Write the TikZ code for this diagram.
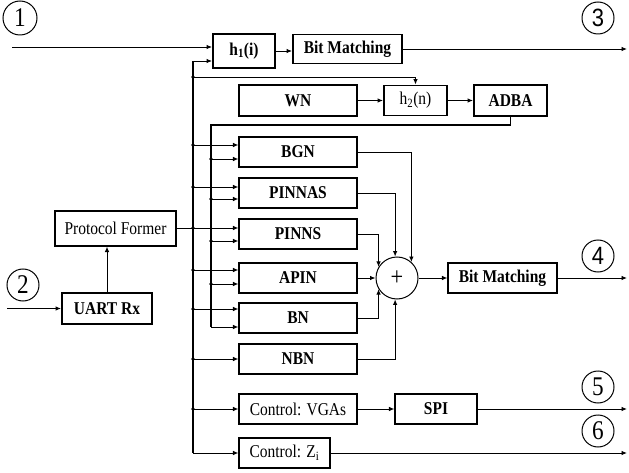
\documentclass[tikz,border=0pt]{standalone}
\usepackage{fontspec}
\setmainfont{Liberation Serif}[FakeStretch=0.86]
\newfontfamily\digsans{Liberation Sans}[FakeStretch=0.88]
\usetikzlibrary{arrows.meta,calc}
\begin{document}
\begin{tikzpicture}[x=1pt,y=-1pt,
  font=\fontsize{18}{20}\selectfont,
  box/.style={draw,line width=1.1pt,inner sep=0pt,align=center},
  tbox/.style={box,line width=1.9pt},
  num/.style={draw,circle,line width=1pt,minimum size=32pt,inner sep=0pt,font=\fontsize{27}{27}\selectfont},
  numsans/.style={num,font=\digsans\fontsize{25}{25}\selectfont},
  conn/.style={line width=0.9pt},
  bus/.style={line width=1.3pt},
  arr/.style={conn,-{Latex[length=5.5pt,width=4.5pt]}},
  dot/.style={circle,fill,inner sep=0pt,minimum size=3.6pt}
]
\useasboundingbox (0,0) rectangle (629,473);

% number circles
\node[num,minimum size=34pt] (c1) at (20,18) {1};
\node[num] (c2) at (23,285) {2};
\node[numsans] (c3) at (598,18) {3};
\node[numsans] (c4) at (598,256) {4};
\node[num] (c5) at (598,387) {5};
\node[num] (c6) at (598,431) {6};

% boxes
\node[tbox,minimum width=62pt,minimum height=34pt] (h1) at (244,51) {\bfseries h\textsubscript{1}(i)};
\node[tbox,minimum width=109pt,minimum height=29pt] (bm1) at (347.5,49) {\bfseries Bit Matching};
\node[tbox,minimum width=118pt,minimum height=31pt] (wn) at (298,100.5) {\bfseries WN};
\node[tbox,minimum width=63pt,minimum height=30pt] (h2) at (415.5,100.5) {h\textsubscript{2}(n)};
\node[tbox,minimum width=73pt,minimum height=31pt] (adba) at (510.5,100.5) {\bfseries ADBA};

\node[box,minimum width=118pt,minimum height=30pt] (bgn) at (298,152) {\bfseries BGN};
\node[box,minimum width=118pt,minimum height=30pt] (pinnas) at (298,193) {\bfseries PINNAS};
\node[box,minimum width=118pt,minimum height=30pt] (pinns) at (298,234) {\bfseries PINNS};
\node[box,minimum width=118pt,minimum height=30pt] (apin) at (298,278) {\bfseries APIN};
\node[box,minimum width=118pt,minimum height=30pt] (bn) at (298,318) {\bfseries BN};
\node[box,minimum width=118pt,minimum height=30pt] (nbn) at (298,359) {\bfseries NBN};
\node[box,minimum width=118pt,minimum height=30pt] (vgas) at (298,409) {Control: VGAs};
\node[box,minimum width=82pt,minimum height=30pt] (spi) at (436,409) {\bfseries SPI};
\node[box,minimum width=91pt,minimum height=30pt] (zi) at (284.5,453) {Control: Z\textsubscript{i}};

\node[draw,circle,line width=1pt,minimum size=42pt,inner sep=0pt] (sum) at (397,278) {\fontsize{26}{26}\selectfont +};
\node[box,minimum width=109pt,minimum height=30pt] (bm2) at (502.5,278) {\bfseries Bit Matching};

\node[box,minimum width=121pt,minimum height=35pt] (pf) at (115.5,228.5) {Protocol Former};
\node[tbox,minimum width=90pt,minimum height=31pt] (uart) at (107,308.5) {\bfseries UART Rx};

% helper coordinates
\coordinate (bus1) at (193,0);
\coordinate (bus2) at (211,0);
\coordinate (b1top) at (193,61);
\coordinate (br) at (193,77);
\coordinate (b2top) at (211,125);
\coordinate (in1) at (12,47);
\coordinate (in2) at (7,0);
\coordinate (out) at (627,0);

% top row
\draw[arr] (in1) -- (in1 -| h1.west);
\draw[arr] (h1.east) -- (h1.east -| bm1.west);
\draw[arr] (bm1.east) -- (bm1.east -| out);
\draw[arr] (wn.east) -- (h2.west);
\draw[arr] (h2.east) -- (adba.west);

% main bus
\draw[bus] (bus1 |- zi.west) -- (b1top);
\draw[arr] (b1top) -- (b1top -| h1.west);
\draw[arr] (bus1 |- zi.west) -- (zi.west);
\draw[arr] (br) -| (h2.north);
\node[dot] at (br) {};

% branches from main bus
\foreach \n/\a/\b in {bgn/-7/7, pinnas/-6/6, pinns/-6/7, apin/-8/6, bn/-9/9} {
  \coordinate (\n-a) at ($(\n.west)+(0,\a)$);
  \coordinate (\n-b) at ($(\n.west)+(0,\b)$);
  \draw[arr] (bus1 |- \n-a) -- (\n-a);
  \node[dot] at (bus1 |- \n-a) {};
}
\draw[arr] (bus1 |- nbn.west) -- (nbn.west);
\node[dot] at (bus1 |- nbn.west) {};
\draw[arr] (bus1 |- vgas.west) -- (vgas.west);
\node[dot] at (bus1 |- vgas.west) {};

% ADBA feedback bus
\draw[bus] (adba.south) |- (b2top) -- (bus2 |- bn-b);
\draw[arr] (bus2 |- bn-b) -- (bn-b);
\foreach \n in {bgn,pinnas,pinns,apin} {
  \draw[arr] (bus2 |- \n-b) -- (\n-b);
  \node[dot] at (bus2 |- \n-b) {};
}

% protocol former and UART
\draw[conn] (pf.east) -- (bus1 |- pf.east);
\draw[arr] (uart.north) -- (uart.north |- pf.south);
\draw[arr] (in2 |- uart.west) -- (uart.west);

% into the adder
\draw[arr] (bgn.east) -| (sum.48);
\draw[arr] (pinnas.east) -| (sum.95);
\draw[arr] (pinns.east) -| (sum.149);
\draw[arr] (apin.east) -- (sum.west);
\draw[arr] (bn.east) -| (sum.211);
\draw[arr] (nbn.east) -| (sum.265);
\draw[arr] (sum.east) -- (bm2.west);
\draw[arr] (bm2.east) -- (bm2.east -| out);

% control outputs
\draw[arr] (vgas.east) -- (spi.west);
\draw[arr] (spi.east) -- (spi.east -| out);
\draw[arr] (zi.east) -- (zi.east -| out);
\end{tikzpicture}
\end{document}
